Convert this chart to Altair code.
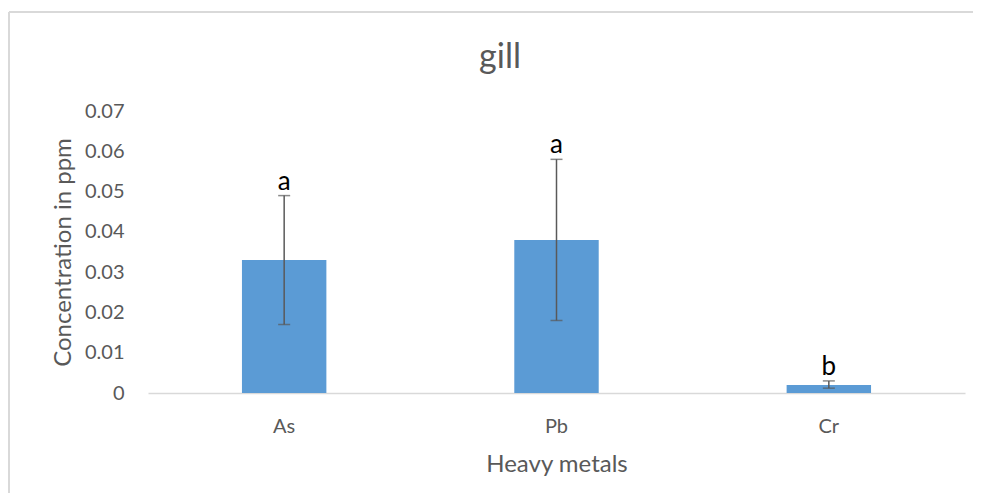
import altair as alt
import pandas as pd

chart_title = "gill"
metals = ["As", "Pb", "Cr"]
means = [0.033, 0.038, 0.002]
err_low = [0.017, 0.018, 0.0012]
err_high = [0.049, 0.058, 0.003]
letters = ["a", "a", "b"]

df = pd.DataFrame({"metal": metals, "mean": means, "lo": err_low, "hi": err_high, "letter": letters})
tdf = pd.DataFrame({"t": [chart_title]})

FONT = "Lato"
GREY = "#595959"
BORDER = "#d9d9d9"

x = alt.X("metal:N", sort=metals, title="Heavy metals",
          scale=alt.Scale(paddingInner=0.69, paddingOuter=0.345),
          axis=alt.Axis(labelAngle=0, labelFontSize=20, labelColor=GREY, labelFont=FONT,
                        titleFontSize=24, titleColor=GREY, titleFont=FONT, titleFontWeight="normal",
                        labelPadding=23, titlePadding=16, ticks=False,
                        domainColor=BORDER, domainWidth=1.5))
y = alt.Y("mean:Q", title="Concentration in ppm",
          scale=alt.Scale(domain=[0, 0.07], nice=False),
          axis=alt.Axis(values=[0, 0.01, 0.02, 0.03, 0.04, 0.05, 0.06, 0.07], format="~g",
                        labelFontSize=20, labelColor=GREY, labelFont=FONT,
                        titleFontSize=24, titleColor=GREY, titleFont=FONT, titleFontWeight="normal",
                        labelPadding=24, titlePadding=9, ticks=False, domain=False, grid=False))

border_top = alt.Chart(tdf).mark_rule(color=BORDER, strokeWidth=2).encode(
    x=alt.value(-139), x2=alt.value(840), y=alt.value(-99))
border_left = alt.Chart(tdf).mark_rule(color=BORDER, strokeWidth=2).encode(
    x=alt.value(-139), y=alt.value(-99), y2=alt.value(400))

title = alt.Chart(tdf).mark_text(fontSize=34, font=FONT, color=GREY, baseline="middle", align="center").encode(
    text="t:N", x=alt.value(352), y=alt.value(-53))

bars = alt.Chart(df).mark_bar(color="#5b9bd5").encode(x=x, y=y)

rules = alt.Chart(df).mark_rule(color=GREY, strokeWidth=1.5).encode(
    x=alt.X("metal:N", sort=metals), y="lo:Q", y2="hi:Q")
caps_lo = alt.Chart(df).mark_tick(color=GREY, size=12, thickness=1.5, orient="horizontal").encode(
    x=alt.X("metal:N", sort=metals), y="lo:Q")
caps_hi = alt.Chart(df).mark_tick(color=GREY, size=12, thickness=1.5, orient="horizontal").encode(
    x=alt.X("metal:N", sort=metals), y="hi:Q")

labels = alt.Chart(df).mark_text(fontSize=26, font=FONT, color="black", baseline="bottom", dy=-1).encode(
    x=alt.X("metal:N", sort=metals), y="hi:Q", text="letter:N")

chart = alt.layer(border_top, border_left, title, bars, rules, caps_lo, caps_hi, labels).properties(
    width=817, height=282,
    autosize=alt.AutoSizeParams(type="none"),
    padding={"left": 140, "top": 103, "right": 8, "bottom": 100},
    background="white",
).configure_view(stroke="transparent", strokeWidth=0)

chart.save("out.html", embed_options={"renderer": "svg", "actions": False})
